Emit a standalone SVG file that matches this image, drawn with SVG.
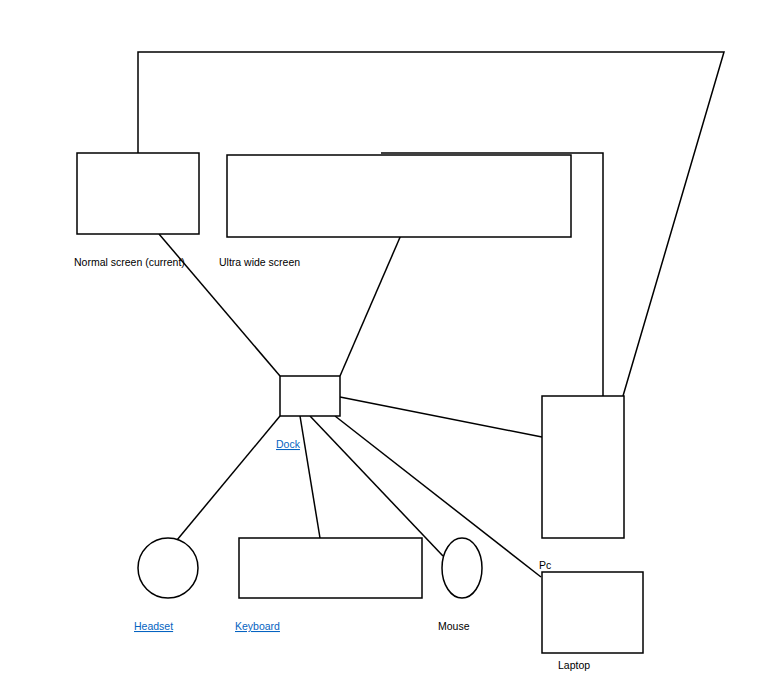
<svg xmlns="http://www.w3.org/2000/svg" width="780" height="695" viewBox="0 0 780 695">
<style>
.s{fill:#fff;stroke:#000;stroke-width:1.5}
.c{fill:none;stroke:#000;stroke-width:1.5}
text{font-family:"Liberation Sans",Arial,sans-serif;font-size:10.5px;fill:#000}
.l{fill:#0563c1;text-decoration:underline}
</style>
<rect width="780" height="695" fill="#fff"/>
<g id="connectors">
<polyline class="c" points="138,153 138,52 724,52 623,396"/>
<polyline class="c" points="381,153 603,153 603,396"/>
<line class="c" x1="159" y1="234" x2="280" y2="376"/>
<line class="c" x1="401" y1="235" x2="340" y2="376"/>
<line class="c" x1="340" y1="397" x2="542" y2="437"/>
<line class="c" x1="280" y1="416" x2="177" y2="540"/>
<line class="c" x1="300" y1="416" x2="320" y2="538"/>
<line class="c" x1="310" y1="416" x2="443" y2="556"/>
<line class="c" x1="335" y1="416" x2="541" y2="577"/>
</g>
<g id="normal"><rect class="s" x="77" y="153" width="122" height="81"/><text x="74" y="266">Normal screen (current)</text></g>
<g id="ultra"><rect class="s" x="227" y="155" width="344" height="82"/><text x="219" y="266">Ultra wide screen</text></g>
<g id="dock"><rect class="s" x="280" y="376" width="60" height="40"/><text class="l" x="276" y="448">Dock</text></g>
<g id="pc"><rect class="s" x="542" y="396" width="82" height="142"/><text x="539" y="569">Pc</text></g>
<g id="laptop"><rect class="s" x="542" y="572" width="101" height="81"/><text x="558" y="669">Laptop</text></g>
<g id="headset"><circle class="s" cx="168" cy="568" r="30"/><text class="l" x="134" y="630">Headset</text></g>
<g id="keyboard"><rect class="s" x="239" y="538" width="183" height="60"/><text class="l" x="235" y="630">Keyboard</text></g>
<g id="mouse"><ellipse class="s" cx="462" cy="568" rx="20" ry="30"/><text x="438" y="630">Mouse</text></g>
</svg>
